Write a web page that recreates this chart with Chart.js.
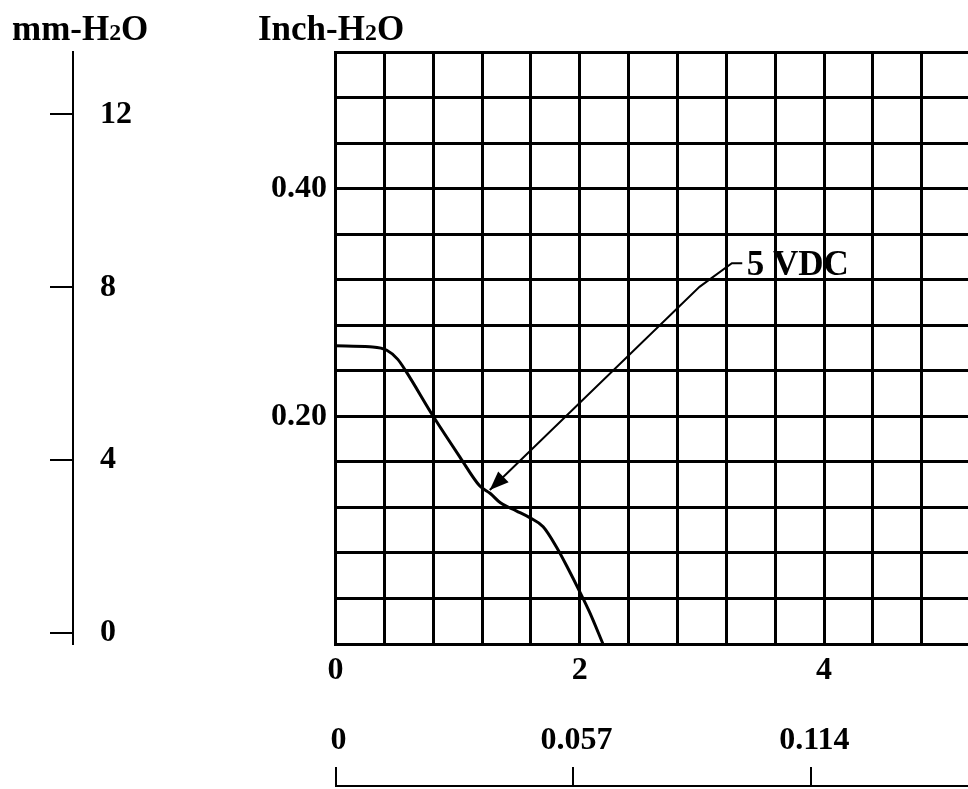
<!DOCTYPE html>
<html>
<head>
<meta charset="utf-8">
<script src="https://cdn.jsdelivr.net/npm/chart.js@4.4.1/dist/chart.umd.min.js"></script>
<style>
  html, body { margin: 0; padding: 0; background: #fff; overflow: hidden; }
  #wrap { position: relative; width: 968px; height: 789px; overflow: hidden; background: #fff; }
  #fan { position: absolute; left: 0; top: 0; }
  .ttl {
    position: absolute;
    font-family: 'Liberation Serif', 'Times New Roman', serif;
    font-weight: bold; font-size: 35px; line-height: 35px;
    color: #000; white-space: nowrap;
  }
  .ttl span { font-size: 0.68em; }
</style>
</head>
<body>
<div id="wrap">
  <canvas id="fan" width="1090" height="789"></canvas>
  <div class="ttl" style="left:12px; top:11px">mm-H<span>2</span>O</div>
  <div class="ttl" style="left:258px; top:11px">Inch-H<span>2</span>O</div>
</div>
<script>
// ---------------------------------------------
// values
// ---------------------------------------------
// airflow (CFM) / static pressure (inch-H2O), 5 VDC curve
const cfm     = [0.00, 0.28, 0.42, 0.51, 0.58, 0.80, 1.02, 1.18, 1.27, 1.35, 1.48, 1.59, 1.70, 1.81, 1.91, 1.99, 2.08, 2.19];
const inchH2O = [0.262, 0.261, 0.258, 0.250, 0.239, 0.200, 0.164, 0.139, 0.132, 0.124, 0.117, 0.111, 0.103, 0.085, 0.065, 0.048, 0.028, 0.000];

// callout leader (CFM, inch-H2O), last point = arrow tip
const leaderX = [3.33, 3.245, 2.98, 1.263];
const leaderY = [0.3345, 0.3345, 0.3137, 0.1352];
const calloutText = '5 VDC';
const calloutAt   = [3.366, 0.324];

// tick labels
const cfmLabels  = [0, 2, 4, 6];
const inchLabels = [0.20, 0.40];
const mmTicks    = [0, 4, 8, 12];
const m3Ticks    = [0, 0.057, 0.114, 0.171];

const FAMILY = "'Liberation Serif', 'Times New Roman', serif";
const tickFont = { family: FAMILY, weight: 'bold', size: 32 };
const near = (list, v) => list.some(c => Math.abs(c - v) < 1e-6);

// arrow head + "5 VDC" text, placed through the chart scales
const callout = {
  id: 'callout',
  afterDatasetsDraw(chart) {
    const { ctx, scales } = chart;
    const pts  = chart.getDatasetMeta(1).data;
    const tip  = pts[pts.length - 1];
    const prev = pts[pts.length - 2];
    const ang  = Math.atan2(tip.y - prev.y, tip.x - prev.x);

    ctx.save();
    ctx.fillStyle = '#000';
    ctx.translate(tip.x, tip.y);
    ctx.rotate(ang);
    ctx.beginPath();
    ctx.moveTo(0, 0);
    ctx.lineTo(-19, -7.5);
    ctx.lineTo(-19, 7.5);
    ctx.closePath();
    ctx.fill();
    ctx.restore();

    ctx.save();
    ctx.font = 'bold 35px ' + FAMILY;
    ctx.fillStyle = '#000';
    ctx.textAlign = 'left';
    ctx.textBaseline = 'alphabetic';
    ctx.fillText(calloutText,
      scales.x.getPixelForValue(calloutAt[0]),
      scales.y.getPixelForValue(calloutAt[1]));
    ctx.restore();
  }
};

new Chart(document.getElementById('fan'), {
  type: 'line',
  data: {
    datasets: [
      {
        data: cfm.map((x, i) => ({ x, y: inchH2O[i] })),
        xAxisID: 'x', yAxisID: 'y',
        borderColor: '#000', borderWidth: 3,
        pointRadius: 0, fill: false,
        cubicInterpolationMode: 'monotone',
        borderJoinStyle: 'round', borderCapStyle: 'round'
      },
      {
        data: leaderX.map((x, i) => ({ x, y: leaderY[i] })),
        xAxisID: 'x', yAxisID: 'y',
        borderColor: '#000', borderWidth: 2,
        pointRadius: 0, fill: false, tension: 0
      }
    ]
  },
  options: {
    responsive: false,
    animation: false,
    events: [],
    layout: { padding: { left: 50, top: 52, right: 21.6, bottom: 0 } },
    plugins: { legend: { display: false }, tooltip: { enabled: false } },
    scales: {
      x: {
        type: 'linear', min: 0, max: 6,
        afterFit: s => { s.height = 145; },
        ticks: {
          stepSize: 0.4, autoSkip: false, maxRotation: 0, padding: 8,
          font: tickFont, color: '#000',
          callback: v => near(cfmLabels, v) ? String(Math.round(v)) : ''
        },
        grid: { color: '#000', lineWidth: 3, drawTicks: false },
        border: { color: '#000', width: 3 }
      },
      // m3/min scale under the CFM scale, hung below the grid
      x2: {
        type: 'linear', axis: 'x', position: { y: -0.1247 },
        min: 0, max: 0.17555, bounds: 'data',
        afterBuildTicks: s => { s.ticks = m3Ticks.map(v => ({ value: v })); },
        ticks: {
          autoSkip: false, maxRotation: 0, padding: -44, labelOffset: 3,
          font: tickFont, color: '#000',
          callback: v => v === 0 ? '0' : v.toFixed(3)
        },
        grid: { drawOnChartArea: false, drawTicks: true, tickLength: -20, color: '#000', lineWidth: 2 },
        border: { color: '#000', width: 2 }
      },
      y: {
        type: 'linear', position: 'left', min: 0, max: 0.52,
        afterFit: s => { s.width = 262.5; },
        ticks: {
          stepSize: 0.04, autoSkip: false, padding: 8.5,
          font: tickFont, color: '#000',
          callback: v => near(inchLabels, v) ? v.toFixed(2) : ''
        },
        grid: { color: '#000', lineWidth: 3, drawTicks: false },
        border: { color: '#000', width: 3 }
      },
      // mm-H2O scale at the far left
      mm: {
        type: 'linear', axis: 'y', position: 'left', weight: 10,
        min: -0.25, max: 13.44, bounds: 'data',
        afterFit: s => { s.width = 23; },
        afterBuildTicks: s => { s.ticks = mmTicks.map(v => ({ value: v })); },
        ticks: {
          mirror: true, padding: 27, autoSkip: false,
          font: tickFont, color: '#000',
          callback: v => String(v)
        },
        grid: { drawOnChartArea: false, drawTicks: true, tickLength: 23, color: '#000', lineWidth: 2 },
        border: { color: '#000', width: 2 }
      }
    }
  },
  plugins: [callout]
});
</script>
</body>
</html>
